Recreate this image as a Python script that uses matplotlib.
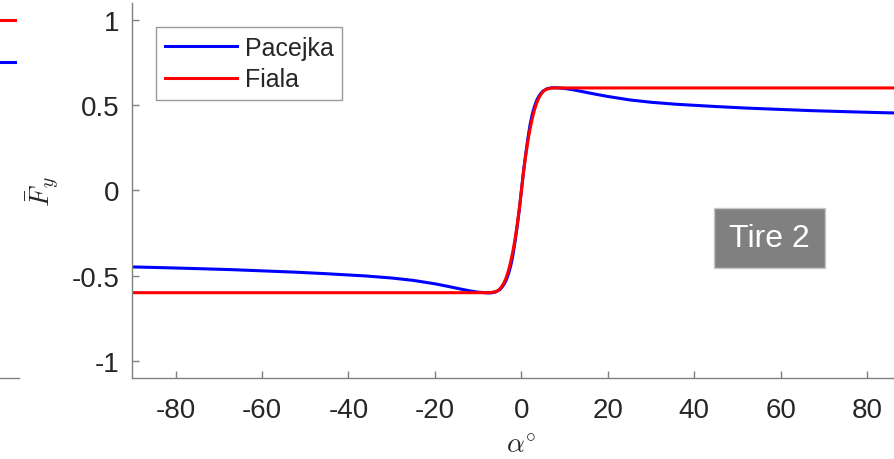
import matplotlib
matplotlib.use('Agg')
import matplotlib.pyplot as plt

plt.rcParams['font.family'] = ['Liberation Sans', 'DejaVu Sans']
plt.rcParams['mathtext.fontset'] = 'cm'
plt.rcParams['axes.unicode_minus'] = False

# slip angle (deg) and normalised lateral force
alpha_pac = [-90, -82, -75, -67, -60, -52, -45, -36, -30, -25, -20, -17, -14, -12, -10, -8, -7, -6,
             -5, -4.5, -4, -3.5, -3, -2.5, -2, -1.5, -1, -0.5, 0, 0.5, 1, 1.5, 2, 2.5, 3, 3.5,
             4, 4.5, 5, 6, 7, 8, 10, 12, 14, 17, 20, 25, 30, 36, 45, 52, 60, 67, 75, 82, 90]
fy_pac = [-0.449, -0.454, -0.459, -0.465, -0.472, -0.480, -0.489, -0.502, -0.514, -0.528, -0.548, -0.563,
          -0.579, -0.589, -0.597, -0.601, -0.601, -0.596, -0.582, -0.568, -0.550, -0.525, -0.490, -0.445,
          -0.385, -0.305, -0.215, -0.115, 0.0, 0.115, 0.215, 0.305, 0.385, 0.445, 0.490, 0.525,
          0.550, 0.568, 0.582, 0.596, 0.601, 0.601, 0.597, 0.589, 0.579, 0.564, 0.550, 0.530, 0.516,
          0.504, 0.491, 0.482, 0.474, 0.467, 0.461, 0.456, 0.451]

alpha_fiala = [-90, -7.5, -7, -6, -5.5, -5, -4.5, -4, -3.5, -3, -2.5, -2, -1.5, -1, -0.5, 0,
               0.5, 1, 1.5, 2, 2.5, 3, 3.5, 4, 4.5, 5, 5.5, 6, 7, 7.5, 90]
fy_fiala = [-0.6, -0.6, -0.599, -0.594, -0.589, -0.578, -0.562, -0.540, -0.510, -0.470, -0.420, -0.360,
            -0.290, -0.205, -0.110, 0.0, 0.110, 0.205, 0.290, 0.360, 0.420, 0.470, 0.510, 0.540,
            0.562, 0.578, 0.589, 0.594, 0.599, 0.6, 0.6]

# visible tail of the neighbouring panel on the left
alpha_prev = [60, 89]
fy_prev_red = [1.0, 1.0]
fy_prev_blue = [0.75, 0.75]

xticks = [-80, -60, -40, -20, 0, 20, 40, 60, 80]
yticks = [-1, -0.5, 0, 0.5, 1]
ytick_labels = ['-1', '-0.5', '0', '0.5', '1']

spine_col = '#808080'
text_col = '#262626'

fig = plt.figure(figsize=(8.94, 4.60), dpi=100)

# main panel
ax = fig.add_axes([0.148, 0.1761, 0.8705, 0.816])
ax.plot(alpha_pac, fy_pac, color=(0, 0, 1), lw=2.2, label='Pacejka')
ax.plot(alpha_fiala, fy_fiala, color=(1, 0, 0), lw=2.2, label='Fiala')
ax.set_xlim(-90, 90)
ax.set_ylim(-1.1, 1.1)
ax.set_xticks(xticks)
ax.set_xticklabels([str(t) for t in xticks])
ax.set_yticks(yticks)
ax.set_yticklabels(ytick_labels)
for s in ['top', 'right']:
    ax.spines[s].set_visible(False)
for s in ['left', 'bottom']:
    ax.spines[s].set_color(spine_col)
    ax.spines[s].set_linewidth(1.0)
ax.tick_params(axis='both', direction='in', length=5, width=1.0, color=spine_col,
               labelsize=20, labelcolor=text_col)
ax.tick_params(axis='x', pad=14)
ax.tick_params(axis='y', pad=9)

ax.set_xlabel(r'$\alpha^{\circ}$', fontsize=20, color=text_col)
ax.xaxis.set_label_coords(0.499, -0.145)
ax.set_ylabel(r'$\bar{F}_y$', fontsize=20, color=text_col)
ax.yaxis.set_label_coords(-0.092, 0.5)

leg = ax.legend(loc='upper left', bbox_to_anchor=(0.0305, 0.935), borderaxespad=0,
                fontsize=18, handlelength=2.9, handletextpad=0.3, borderpad=0.35,
                labelspacing=0.3, fancybox=False, framealpha=1)
leg.get_frame().set_edgecolor('#999999')
leg.get_frame().set_linewidth(1.0)
for t in leg.get_texts():
    t.set_color(text_col)

ax.text(57.3, -0.282, 'Tire 2', fontsize=23, color='white', ha='center', va='center',
        bbox=dict(boxstyle='square,pad=0.47', facecolor='#808080', edgecolor='#c8c8c8', lw=1.0))

# neighbouring panel, mostly outside the figure
ax0 = fig.add_axes([-0.8492, 0.1761, 0.8705, 0.816])
ax0.plot(alpha_prev, fy_prev_red, color=(1, 0, 0), lw=2.2)
ax0.plot(alpha_prev, fy_prev_blue, color=(0, 0, 1), lw=2.2)
ax0.set_xlim(-90, 90)
ax0.set_ylim(-1.1, 1.1)
for s in ['top', 'right']:
    ax0.spines[s].set_visible(False)
ax0.spines['bottom'].set_color(spine_col)
ax0.spines['bottom'].set_linewidth(1.0)
ax0.set_xticks([])
ax0.set_yticks([])

fig.savefig('out.png', dpi=100)
